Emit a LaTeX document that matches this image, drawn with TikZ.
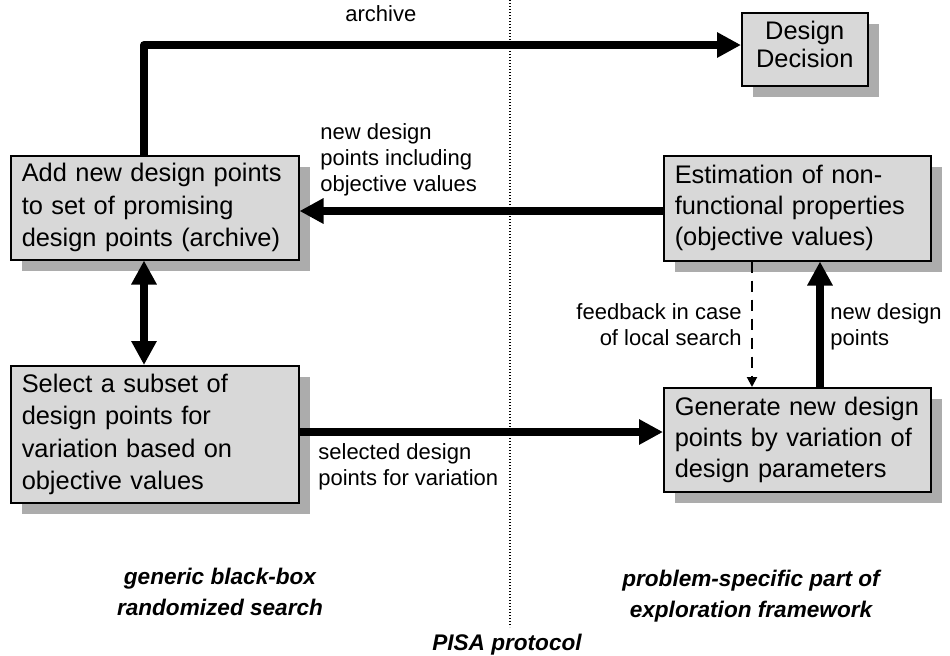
\documentclass[tikz,border=0pt]{standalone}
\usepackage{fontspec}
\setmainfont{Liberation Sans}
\usetikzlibrary{arrows.meta,shadows}

\definecolor{boxgray}{RGB}{216,216,216}
\definecolor{shadegray}{RGB}{172,172,172}

\begin{document}
\begin{tikzpicture}[x=0.5pt,y=-0.5pt,
  procbox/.style={draw=black, line width=0.75pt, fill=boxgray, anchor=north west,
    inner xsep=5.5pt, inner ysep=0pt, align=left,
    font=\fontsize{12.7pt}{15.5pt}\selectfont,
    drop shadow={shadow xshift=5.5pt, shadow yshift=-5.5pt, fill=shadegray, opacity=1}},
  widespaced/.style={font=\fontsize{12.7pt}{16.2pt}\selectfont},
  flowlabel/.style={inner sep=0pt, font=\fontsize{11pt}{13pt}\selectfont},
  partlabel/.style={inner sep=0pt, align=center,
    font=\fontsize{11.3pt}{15.3pt}\selectfont\bfseries\itshape},
  flow/.style={line width=4pt, line join=round, -{Triangle[length=12pt,width=12pt]}},
  flowboth/.style={line width=4pt, {Triangle[length=12pt,width=12pt]}-{Triangle[length=12pt,width=12pt]}},
  feedback/.style={line width=1pt, dash pattern=on 5.5pt off 4pt, -{Triangle[length=5pt,width=5pt]}},
  divider/.style={line width=0.7pt, dash pattern=on 0.6pt off 0.9pt}
]
\useasboundingbox (0,0) rectangle (950,655);

% boundary between the two halves of the framework
\coordinate (divtop) at (510,0);
\coordinate (divbot) at (510,627);
\draw[divider] (divtop) -- (divbot);

% process boxes
\node[procbox, widespaced, minimum width=144pt, minimum height=52pt, text width=133pt] (add) at (10,155)
  {Add new design points\\to set of promising\\design points (archive)};
\node[procbox, widespaced, minimum width=144pt, minimum height=68.5pt, text width=133pt] (sel) at (10,365)
  {Select a subset of\\design points for\\variation based on\\objective values};
\node[procbox, minimum width=133.5pt, minimum height=52.5pt, text width=122.5pt] (est) at (663,155)
  {Estimation of non-\\functional properties\\(objective values)};
\node[procbox, minimum width=133.5pt, minimum height=52pt, text width=122.5pt] (gen) at (663,387)
  {Generate new design\\points by variation of\\design parameters};
\node[procbox, minimum width=63pt, minimum height=36.5pt, text width=52pt, align=center,
  font=\fontsize{12.7pt}{14pt}\selectfont] (dec) at (741,12)
  {Design\\Decision\rule[-5pt]{0pt}{5pt}};

% routing helpers for the connectors
\coordinate (xleft) at (144,0);
\coordinate (xfb) at (752,0);
\coordinate (xup) at (820,0);
\coordinate (ytop) at (0,45);
\coordinate (ymid) at (0,211);
\coordinate (ylow) at (0,432);

% connectors
\draw[flow] (add.north -| xleft) -- (xleft |- ytop) -- (dec.west |- ytop);
\draw[flow] (est.west |- ymid) -- (add.east |- ymid);
\draw[flowboth] (add.south -| xleft) -- (sel.north -| xleft);
\draw[flow] (sel.east |- ylow) -- (gen.west |- ylow);
\draw[flow] (gen.north -| xup) -- (est.south -| xup);
\draw[feedback] (est.south -| xfb) -- (gen.north -| xfb);

% connector labels
\node[flowlabel, anchor=base west] (larc) at (345,21) {archive};
\node[flowlabel, anchor=north west, align=left] (lnew) at (320,123)
  {new design\\points including\\objective values};
\node[flowlabel, anchor=north west, align=left] (lsel) at (318,443)
  {selected design\\points for variation};
\node[flowlabel, anchor=north east, align=right] (lfb) at (742,303)
  {feedback in case\\of local search};
\node[flowlabel, anchor=north west, align=left] (lnd) at (830,303)
  {new design\\points};

% labels of the two parts and the protocol between them
\node[partlabel, anchor=north] (pgen) at (220,568) {generic black-box\\randomized search};
\node[partlabel, anchor=north] (pspec) at (751,570) {problem-specific part of\\exploration framework};
\node[partlabel, anchor=base] (ppisa) at (507,650) {PISA protocol};
\end{tikzpicture}
\end{document}
